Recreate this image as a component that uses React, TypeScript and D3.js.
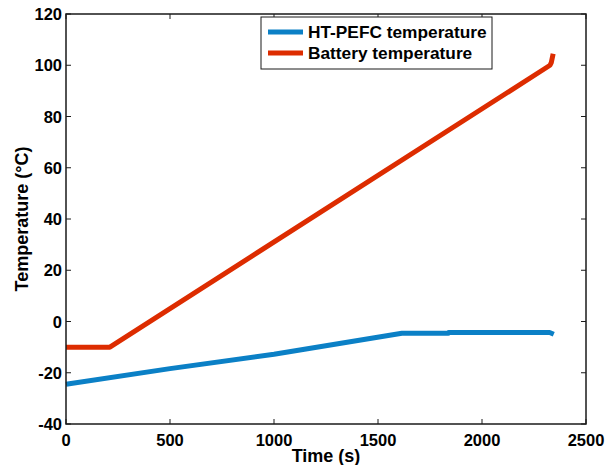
import React from 'react';
import * as d3 from 'd3';

const width = 605;
const height = 465;
const margin = { top: 14, right: 19, bottom: 41, left: 66 };

const xTicks = [0, 500, 1000, 1500, 2000, 2500];
const yTicks = [-40, -20, 0, 20, 40, 60, 80, 100, 120];

const fcTime = [0, 500, 1000, 1615, 1838, 1840, 2325, 2345];
const fcTemp = [-24.5, -18.4, -12.8, -4.6, -4.6, -4.3, -4.3, -5];

const batTime = [0, 211, 2327, 2333, 2342];
const batTemp = [-10, -10, 100, 101, 104.5];

const series = [
  { name: 'HT-PEFC temperature', color: '#0b80c6', x: fcTime, y: fcTemp },
  { name: 'Battery temperature', color: '#dd2c00', x: batTime, y: batTemp },
];

const font = '"Liberation Sans", Arial, Helvetica, sans-serif';

export default function App() {
  const x = d3.scaleLinear().domain([0, 2500]).range([margin.left, width - margin.right]);
  const y = d3.scaleLinear().domain([-40, 120]).range([height - margin.bottom, margin.top]);
  const line = d3.line<[number, number]>().x(d => x(d[0])).y(d => y(d[1]));

  const x0 = x.range()[0], x1 = x.range()[1];
  const y0 = y.range()[0], y1 = y.range()[1];

  return (
    <svg width={width} height={height} style={{ position: 'absolute', left: 0, top: 0 }}>
      <rect width={width} height={height} fill="#fff" />
      {series.map(s => (
        <path key={s.name} d={line(s.x.map((t, i) => [t, s.y[i]]) as [number, number][]) || ''}
          fill="none" stroke={s.color} strokeWidth={5} strokeLinejoin="round" />
      ))}
      <rect x={x0} y={y1} width={x1 - x0} height={y0 - y1} fill="none" stroke="#1a1a1a" strokeWidth={1.5} />
      {xTicks.map(t => (
        <g key={'x' + t}>
          <line x1={x(t)} x2={x(t)} y1={y0} y2={y0 - 5} stroke="#1a1a1a" />
          <line x1={x(t)} x2={x(t)} y1={y1} y2={y1 + 5} stroke="#1a1a1a" />
          <text x={x(t)} y={y0 + 22} textAnchor="middle" fontFamily={font} fontWeight="bold" fontSize={16.5}>{t}</text>
        </g>
      ))}
      {yTicks.map(t => (
        <g key={'y' + t}>
          <line x1={x0} x2={x0 + 5} y1={y(t)} y2={y(t)} stroke="#1a1a1a" />
          <line x1={x1} x2={x1 - 5} y1={y(t)} y2={y(t)} stroke="#1a1a1a" />
          <text x={x0 - 4} y={y(t) + 6} textAnchor="end" fontFamily={font} fontWeight="bold" fontSize={16.5}>{t}</text>
        </g>
      ))}
      <text x={(x0 + x1) / 2} y={462} textAnchor="middle" fontFamily={font} fontWeight="bold" fontSize={18}>Time (s)</text>
      <text transform={`translate(28,${(y0 + y1) / 2}) rotate(-90)`} textAnchor="middle" fontFamily={font} fontWeight="bold" fontSize={18}>Temperature (°C)</text>
      <g>
        <rect x={261} y={17} width={231} height={52} fill="#fff" stroke="#1a1a1a" strokeWidth={1} />
        {series.map((s, i) => (
          <g key={'l' + s.name}>
            <line x1={268} x2={303} y1={32 + i * 21} y2={32 + i * 21} stroke={s.color} strokeWidth={5} />
            <text x={308} y={32 + i * 21 + 6} fontFamily={font} fontWeight="bold" fontSize={17.3}>{s.name}</text>
          </g>
        ))}
      </g>
    </svg>
  );
}
